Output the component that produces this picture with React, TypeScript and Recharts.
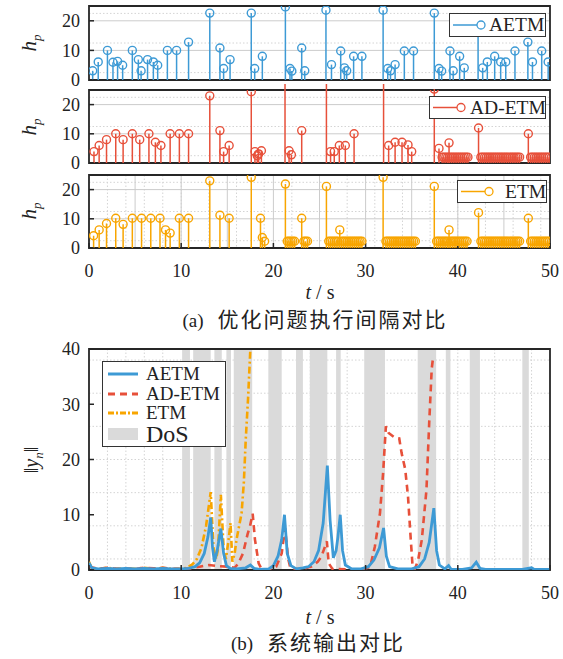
import React from "react";
import {
  ScatterChart,
  Scatter,
  ComposedChart,
  Line,
  XAxis,
  YAxis,
  CartesianGrid,
  ErrorBar,
  ReferenceArea,
  Legend,
} from "recharts";

// ---- (a) event intervals h_p : [t, h_p] ----
const aetmEvents: [number, number][] = [
  [0.4, 3.1], [1.0, 6.1], [2.0, 10], [2.6, 6], [3.1, 6.3], [3.65, 5], [4.7, 10], [5.35, 6.9],
  [5.65, 3.1], [6.35, 6.9], [6.98, 6.1], [7.45, 5], [8.5, 10], [9.5, 10], [10.8, 12.8],
  [13.1, 22.6], [14.2, 10.8], [14.6, 3.9], [15.3, 6.9], [17.6, 22.6], [17.97, 3.9], [18.8, 8],
  [21.3, 24.7], [21.8, 3.9], [22.0, 3], [23.07, 10.8], [23.4, 3.1], [25.7, 23.6], [26.3, 5.2],
  [27.3, 9.8], [27.7, 4.1], [27.95, 3.1], [28.7, 8], [29.6, 8], [31.9, 23.6], [32.4, 3.9],
  [32.7, 3.1], [33.2, 5.2], [34.2, 9.8], [35.2, 9.8], [37.45, 22.6], [37.96, 3.9], [38.25, 3],
  [39.15, 9.8], [39.5, 3.1], [40.2, 8], [40.7, 4.1], [42.2, 18], [42.7, 4.1], [43.2, 6.1],
  [44.0, 8], [44.65, 6.1], [45.2, 6.1], [46.2, 9.8], [47.6, 12.8], [48.1, 6.1], [49.1, 9.8],
  [49.8, 6.1],
];

const adetmEvents: [number, number][] = [
  [0.54, 3.9], [1.1, 6], [1.9, 8], [2.9, 10], [3.7, 8], [4.7, 10], [5.5, 8], [6.5, 10],
  [7.2, 7.1], [7.8, 6], [8.8, 10], [9.8, 10], [10.8, 10], [13.1, 23], [14.2, 11.1], [14.6, 3.9],
  [15.2, 6], [17.6, 24.4], [18.0, 3.9], [18.25, 2.5], [18.4, 3.1], [18.7, 4.2], [21.26, 28],
  [21.7, 4.2], [21.95, 2.8], [23.07, 11.1], [25.75, 28], [26.2, 3.9], [26.6, 3.9], [27.15, 6],
  [27.8, 6], [28.75, 10], [31.95, 28], [32.5, 6], [33.2, 7.1], [33.95, 7.1], [34.6, 6.2],
  [35.0, 3.9], [37.45, 25.3], [37.96, 5], [39.05, 6.9], [42.25, 12], [47.65, 10],
];
const adetmDenseTimes = [
  38.3, 38.5, 38.7, 38.9, 39.1, 39.3, 39.5, 39.7, 39.9, 40.1, 40.3, 40.5, 40.7, 40.9, 41.1,
  42.5, 42.7, 42.9, 43.1, 43.3, 43.5, 43.7, 43.9, 44.1, 44.3, 44.5, 44.7, 44.9, 45.1, 45.3,
  45.5, 45.7, 45.9, 46.1, 46.3, 46.5, 46.7,
  47.9, 48.1, 48.3, 48.5, 48.7, 48.9, 49.1, 49.3, 49.5, 49.7, 49.9,
];
const adetmDenseHp = 2;

const etmEvents: [number, number][] = [
  [0.5, 4.2], [1.1, 6.2], [1.9, 8.4], [2.9, 10.2], [3.7, 8.1], [4.7, 10.2], [5.7, 10.2],
  [6.7, 10.2], [7.7, 10.2], [8.3, 6.2], [8.8, 5.1], [9.8, 10.2], [10.8, 10.2], [13.1, 23],
  [14.2, 11.2], [15.2, 10.2], [17.6, 24.2], [18.6, 10.2], [18.8, 3.6], [19.05, 2.3],
  [21.3, 21.9], [23.07, 10.2], [25.75, 21.1], [27.2, 6.2], [31.9, 24.2], [37.45, 21.1],
  [39.05, 6.2], [42.25, 12.1], [47.65, 10.2],
];
const etmDenseTimes = [
  21.5, 21.7, 21.9, 22.1, 22.3,
  23.3, 23.5, 23.7,
  26.0, 26.2, 26.4, 26.6, 26.8, 27.0, 27.4, 27.6, 27.8, 28.0, 28.2, 28.4, 28.6, 28.8, 29.0,
  29.2, 29.4, 29.6,
  32.2, 32.4, 32.6, 32.8, 33.0, 33.2, 33.4, 33.6, 33.8, 34.0, 34.2, 34.4, 34.6, 34.8, 35.0,
  35.2, 35.4,
  37.7, 37.9, 38.1, 38.3, 38.5, 38.7, 38.9, 39.2, 39.4, 39.6, 39.8, 40.0, 40.2, 40.4, 40.6,
  40.8, 41.0,
  42.5, 42.7, 42.9, 43.1, 43.3, 43.5, 43.7, 43.9, 44.1, 44.3, 44.5, 44.7, 44.9, 45.1, 45.3,
  45.5, 45.7, 45.9, 46.1, 46.3, 46.5, 46.7,
  47.9, 48.1, 48.3, 48.5, 48.7, 48.9, 49.1, 49.3, 49.5, 49.7, 49.9,
];
const etmDenseHp = 2.3;

// ---- (b) output norm ||y_n|| : [t, value] ----
const aetmOutput: [number, number][] = [
  [0, 1.3], [0.3, 0.4], [1, 0.2], [2, 0.3], [3, 0.2], [4, 0.3], [5, 0.2], [6, 0.3], [7, 0.2],
  [8, 0.3], [9, 0.2], [10, 0.2], [10.8, 0.3], [11.5, 0.6], [12, 1.3], [12.5, 3], [12.9, 6],
  [13.2, 9.5], [13.4, 4], [13.6, 1.5], [13.9, 3.5], [14.3, 7.5], [14.6, 3], [14.9, 0.8],
  [15.3, 0.3], [16, 0.2], [17, 0.4], [17.5, 0.9], [17.9, 0.3], [18.5, 0.1], [19.5, 0.2],
  [20, 0.8], [20.5, 2.5], [20.9, 5.5], [21.2, 10], [21.5, 3], [21.9, 0.8], [22.5, 0.2],
  [23.2, 0.4], [23.8, 0.6], [24.4, 1.5], [24.9, 3.5], [25.4, 8.5], [25.85, 18.9], [26.15, 9],
  [26.5, 2.2], [26.8, 3.5], [27.0, 6], [27.25, 10], [27.5, 3.5], [27.8, 0.9], [28.5, 0.2],
  [29.5, 0.2], [30.3, 0.6], [30.9, 1.8], [31.5, 4], [31.95, 7.6], [32.25, 2.5], [32.6, 0.6],
  [33.5, 0.2], [35, 0.2], [35.8, 0.6], [36.4, 2], [36.9, 5], [37.4, 11.2], [37.7, 3.5],
  [38.0, 0.9], [38.6, 0.2], [39.0, 0.8], [39.3, 0.1], [40.5, 0.1], [41.5, 0.4], [42.0, 1.4],
  [42.4, 0.3], [43, 0.1], [45, 0.1], [47, 0.1], [48, 0.4], [48.3, 0.1], [50, 0.1],
];

const adetmOutput: [number, number][] = [
  [0, 0.6], [1, 0.2], [2, 0.4], [3, 0.2], [4, 0.3], [5, 0.2], [6, 0.4], [7, 0.3], [8, 0.4],
  [9, 0.2], [10, 0.2], [11, 0.3], [12, 0.6], [13, 0.9], [14, 0.7], [15.0, 0.6], [15.8, 0.4],
  [16.2, 1.2], [16.7, 3], [17.2, 6.5], [17.46, 7.9], [17.75, 10.2], [18.0, 5.5], [18.4, 1.2],
  [18.75, 0.1], [19.5, 0.1], [20.3, 0.6], [20.9, 3], [21.26, 7.6], [21.6, 2.1], [21.85, 0.3],
  [23, 0.1], [24.1, 0.6], [24.8, 1.5], [25.2, 2.4], [25.8, 5.2], [26.0, 1.2], [26.4, 0.2],
  [28, 0.1], [29.8, 0.1], [30.5, 0.6], [31.0, 4.2], [31.56, 10.3], [31.9, 17.6], [32.2, 26],
  [32.5, 24.8], [33.2, 23.9], [33.65, 23.8], [33.9, 21.2], [34.3, 18.2], [34.6, 13.3],
  [34.9, 5.5], [35.1, 0.6], [35.35, 0.2], [35.7, 1.8], [36.1, 5.5], [36.6, 14.5], [36.9, 26.7],
  [37.17, 36.4], [37.3, 38.2],
];

const etmOutput: [number, number][] = [
  [0, 1.5], [0.3, 0.3], [1, 0.2], [2, 0.4], [3, 0.2], [4, 0.3], [5, 0.2], [6, 0.4], [7, 0.2],
  [8, 0.4], [9, 0.2], [10, 0.2], [10.6, 0.4], [11.2, 1], [11.7, 2], [12.2, 4], [12.7, 8],
  [13.2, 14.1], [13.5, 4], [13.8, 2], [14.0, 4], [14.3, 13.6], [14.6, 4], [14.85, 2],
  [15.1, 5], [15.35, 8.5], [15.55, 1.5], [15.8, 3], [16.0, 5.5], [16.55, 10.3], [16.8, 16],
  [17.0, 23.6], [17.25, 31], [17.5, 40], [17.7, 46],
];

const dosStart = [10.1, 11.3, 13.6, 14.9, 15.7, 19.45, 22.45, 23.95, 26.8, 29.85, 35.65, 38.7, 41.3, 47.0];
const dosEnd = [10.95, 13.2, 14.4, 15.4, 17.7, 20.9, 23.2, 25.85, 27.3, 32.1, 37.65, 39.2, 42.4, 47.7];

const timeTicks = [0, 10, 20, 30, 40, 50];
const hpTicks = [0, 10, 20];
const outputTicks = [0, 10, 20, 30, 40];

// ---- style ----
const SERIF = "Liberation Serif, Times New Roman, serif";
const CJK = '"Noto Sans CJK SC", "Noto Sans CJK JP", sans-serif';
const BLUE = "#3d9ad5";
const RED = "#e7503a";
const ORANGE = "#f8a500";
const DOS = "#dadada";
const FRAME = "#262626";

const oneStep = Array.from({ length: 49 }, (_, i) => i + 1);
const fiveStep = [5, 10, 15, 20, 25, 30, 35, 40, 45];
const hpMinor = [2.5, 7.5, 12.5, 17.5, 22.5];
const hpMajor = [5, 10, 15, 20];
const twoStepX = Array.from({ length: 24 }, (_, i) => (i + 1) * 2);
const twoStepY = Array.from({ length: 19 }, (_, i) => (i + 1) * 2);

const XTick = (p: any) => (
  <text
    x={p.x}
    y={p.y}
    dy="0.71em"
    textAnchor="middle"
    fontFamily={SERIF}
    fontSize={18}
    fill="#222"
    style={{ fontFamily: SERIF, fontSize: 18 }}
  >
    {p.payload.value}
  </text>
);

const YTick = (p: any) => (
  <text
    x={p.x}
    y={p.y}
    dy="0.35em"
    textAnchor="end"
    fontFamily={SERIF}
    fontSize={18}
    fill="#222"
    style={{ fontFamily: SERIF, fontSize: 18 }}
  >
    {p.payload.value}
  </text>
);

function toStems(events: [number, number][], dense: number[] = [], denseHp = 0) {
  const pts = [
    ...events.map(([t, h]) => ({ t, h })),
    ...dense.map((t) => ({ t, h: denseHp })),
  ];
  return pts.map((p) => ({ ...p, err: [p.h, 0] }));
}

function toLine(points: [number, number][]) {
  return points.map(([t, v]) => ({ t, v }));
}

type StemProps = {
  top: number;
  plotHeight: number;
  data: { t: number; h: number; err: number[] }[];
  color: string;
  name: string;
  legend: { left: number; top: number; width: number; height: number; textLeft: number };
  showLabels: boolean;
};

function StemPanel({ top, plotHeight, data, color, name, legend, showLabels }: StemProps) {
  const axisH = showLabels ? 40 : 10;
  const mid = (legend.height - 2) / 2;
  return (
    <div style={{ position: "absolute", left: 0, top }}>
      <ScatterChart width={563} height={6 + plotHeight + axisH} margin={{ top: 6, right: 13, bottom: 0, left: 49 }}>
        <CartesianGrid verticalValues={oneStep} horizontalValues={hpMinor} stroke="#d4d4d4" strokeDasharray="1.5 2" />
        <CartesianGrid verticalValues={fiveStep} horizontalValues={hpMajor} stroke="#cccccc" />
        <XAxis
          type="number"
          dataKey="t"
          domain={[0, 50]}
          ticks={timeTicks}
          allowDataOverflow
          height={axisH}
          tickSize={-5}
          tickMargin={21}
          axisLine={false}
          tickLine={{ stroke: FRAME, strokeWidth: 1.5 }}
          tick={showLabels ? XTick : false}
        />
        <YAxis
          type="number"
          dataKey="h"
          domain={[0, 25]}
          ticks={hpTicks}
          allowDataOverflow
          width={40}
          tickSize={-5}
          tickMargin={14}
          axisLine={false}
          tickLine={{ stroke: FRAME, strokeWidth: 1.5 }}
          tick={YTick}
        />
        <Scatter
          data={data}
          isAnimationActive={false}
          shape={(p: any) => (
            <circle cx={p.cx} cy={p.cy} r={4} fill="none" stroke={color} strokeWidth={1.4} />
          )}
        >
          <ErrorBar dataKey="err" direction="y" width={0} stroke={color} strokeWidth={1.5} isAnimationActive={false} />
        </Scatter>
        <ReferenceArea x1={0} x2={50} y1={0} y2={25} fill="none" stroke={FRAME} strokeWidth={1.8} />
        <Legend
          layout="horizontal"
          verticalAlign="middle"
          align="center"
          wrapperStyle={{ left: legend.left, top: legend.top, width: legend.width, height: legend.height }}
          content={() => (
            <div
              style={{
                width: legend.width,
                height: legend.height,
                boxSizing: "border-box",
                border: "1.2px solid #333",
                background: "#fff",
                position: "relative",
                fontFamily: SERIF,
                fontSize: 19.5,
                color: "#222",
                whiteSpace: "nowrap",
              }}
            >
              <svg width={38} height={legend.height - 2} style={{ position: "absolute", left: 0, top: 0 }}>
                <line x1={3} y1={mid} x2={31} y2={mid} stroke={color} strokeWidth={1.5} />
                <circle cx={31} cy={mid} r={4} fill="#fff" stroke={color} strokeWidth={1.3} />
              </svg>
              <span style={{ position: "absolute", left: legend.textLeft, top: 0, lineHeight: `${legend.height - 2}px` }}>{name}</span>
            </div>
          )}
        />
      </ScatterChart>
    </div>
  );
}

function HpLabel({ cy }: { cy: number }) {
  return (
    <div
      style={{
        position: "absolute",
        left: 31,
        top: cy,
        transform: "translate(-50%, -50%) rotate(-90deg)",
        fontFamily: SERIF,
        fontSize: 21,
        color: "#222",
        whiteSpace: "nowrap",
      }}
    >
      <i>h</i>
      <sub style={{ fontSize: 13 }}>
        <i>p</i>
      </sub>
    </div>
  );
}

function TimeLabel({ cy }: { cy: number }) {
  return (
    <div
      style={{
        position: "absolute",
        left: 320,
        top: cy,
        transform: "translate(-50%, -50%)",
        fontFamily: SERIF,
        fontSize: 20,
        color: "#222",
        whiteSpace: "nowrap",
      }}
    >
      <i>t</i> / s
    </div>
  );
}

function Caption({ cy, cx, tag, text }: { cy: number; cx: number; tag: string; text: string }) {
  return (
    <div
      style={{
        position: "absolute",
        left: cx,
        top: cy,
        transform: "translate(-50%, -50%)",
        color: "#222",
        whiteSpace: "nowrap",
      }}
    >
      <span style={{ fontFamily: SERIF, fontSize: 19 }}>{tag}</span>
      <span style={{ fontFamily: CJK, fontSize: 21, marginLeft: 14, letterSpacing: 2 }}>{text}</span>
    </div>
  );
}

const outputLegend = [
  { name: "AETM", color: BLUE, dash: undefined as string | undefined },
  { name: "AD-ETM", color: RED, dash: "7 5" },
  { name: "ETM", color: ORANGE, dash: "6 2 2 2" },
];

function OutputLegend() {
  return (
    <div
      style={{
        width: 124,
        height: 86,
        boxSizing: "border-box",
        border: "1.2px solid #333",
        background: "#fff",
        position: "relative",
        fontFamily: SERIF,
        color: "#222",
        whiteSpace: "nowrap",
      }}
    >
      {outputLegend.map((e, i) => (
        <div key={e.name} style={{ position: "absolute", left: 0, top: 2 + i * 19.5, height: 20, width: 122 }}>
          <svg width={40} height={20} style={{ position: "absolute", left: 0, top: 0 }}>
            <line x1={5} y1={10} x2={35} y2={10} stroke={e.color} strokeWidth={3} strokeDasharray={e.dash} />
          </svg>
          <span style={{ position: "absolute", left: 43, top: 0, fontSize: 19, lineHeight: "20px" }}>{e.name}</span>
        </div>
      ))}
      <div style={{ position: "absolute", left: 0, top: 61, height: 22, width: 122 }}>
        <svg width={40} height={22} style={{ position: "absolute", left: 0, top: 0 }}>
          <rect x={5} y={5} width={30} height={12} fill={DOS} />
        </svg>
        <span style={{ position: "absolute", left: 43, top: -1, fontSize: 24, lineHeight: "24px" }}>DoS</span>
      </div>
    </div>
  );
}

function OutputPanel() {
  return (
    <div style={{ position: "absolute", left: 0, top: 340 }}>
      <ComposedChart width={563} height={265} margin={{ top: 9, right: 13, bottom: 0, left: 49 }}>
        <CartesianGrid verticalValues={twoStepX} horizontalValues={twoStepY} stroke="#d4d4d4" strokeDasharray="1.5 2" />
        {dosStart.map((s, i) => (
          <ReferenceArea key={i} x1={s} x2={dosEnd[i]} y1={0} y2={40} fill={DOS} fillOpacity={1} stroke="none" />
        ))}
        <XAxis
          type="number"
          dataKey="t"
          domain={[0, 50]}
          ticks={timeTicks}
          allowDataOverflow
          height={35}
          tickSize={-5}
          tickMargin={21}
          axisLine={false}
          tickLine={{ stroke: FRAME, strokeWidth: 1.5 }}
          tick={XTick}
        />
        <YAxis
          type="number"
          dataKey="v"
          domain={[0, 40]}
          ticks={outputTicks}
          allowDataOverflow
          width={40}
          tickSize={-5}
          tickMargin={14}
          axisLine={false}
          tickLine={{ stroke: FRAME, strokeWidth: 1.5 }}
          tick={YTick}
        />
        <Line data={toLine(etmOutput)} dataKey="v" stroke={ORANGE} strokeWidth={2.6} strokeDasharray="7 3 2 3" dot={false} isAnimationActive={false} />
        <Line data={toLine(adetmOutput)} dataKey="v" stroke={RED} strokeWidth={2.6} strokeDasharray="7 5" dot={false} isAnimationActive={false} />
        <Line data={toLine(aetmOutput)} dataKey="v" stroke={BLUE} strokeWidth={2.8} dot={false} isAnimationActive={false} />
        <ReferenceArea x1={0} x2={50} y1={0} y2={40} fill="none" stroke={FRAME} strokeWidth={1.8} />
        <Legend
          layout="horizontal"
          verticalAlign="middle"
          align="center"
          wrapperStyle={{ left: 102, top: 21, width: 124, height: 86 }}
          content={() => <OutputLegend />}
        />
      </ComposedChart>
    </div>
  );
}

export default function App() {
  return (
    <div style={{ position: "absolute", left: 0, top: 0, width: 563, height: 659, background: "#fff", overflow: "hidden" }}>
      <StemPanel
        top={0}
        plotHeight={74}
        data={toStems(aetmEvents)}
        color={BLUE}
        name="AETM"
        legend={{ left: 449, top: 13, width: 97, height: 24, textLeft: 39 }}
        showLabels={false}
      />
      <StemPanel
        top={84}
        plotHeight={73}
        data={toStems(adetmEvents, adetmDenseTimes, adetmDenseHp)}
        color={RED}
        name="AD-ETM"
        legend={{ left: 429, top: 12, width: 117, height: 23, textLeft: 40 }}
        showLabels={false}
      />
      <StemPanel
        top={169}
        plotHeight={73}
        data={toStems(etmEvents, etmDenseTimes, etmDenseHp)}
        color={ORANGE}
        name="ETM"
        legend={{ left: 457, top: 11, width: 90, height: 23, textLeft: 47 }}
        showLabels
      />
      <HpLabel cy={43} />
      <HpLabel cy={127} />
      <HpLabel cy={211} />
      <TimeLabel cy={292} />
      <Caption cx={315} cy={318} tag="(a)" text="优化问题执行间隔对比" />

      <OutputPanel />
      <div
        style={{
          position: "absolute",
          left: 33,
          top: 460,
          transform: "translate(-50%, -50%) rotate(-90deg)",
          fontFamily: SERIF,
          fontSize: 20,
          color: "#222",
          whiteSpace: "nowrap",
        }}
      >
        ‖<i>y</i>
        <sub style={{ fontSize: 13 }}>
          <i>n</i>
        </sub>
        ‖
      </div>
      <TimeLabel cy={617} />
      <Caption cx={318} cy={641} tag="(b)" text="系统输出对比" />
    </div>
  );
}
